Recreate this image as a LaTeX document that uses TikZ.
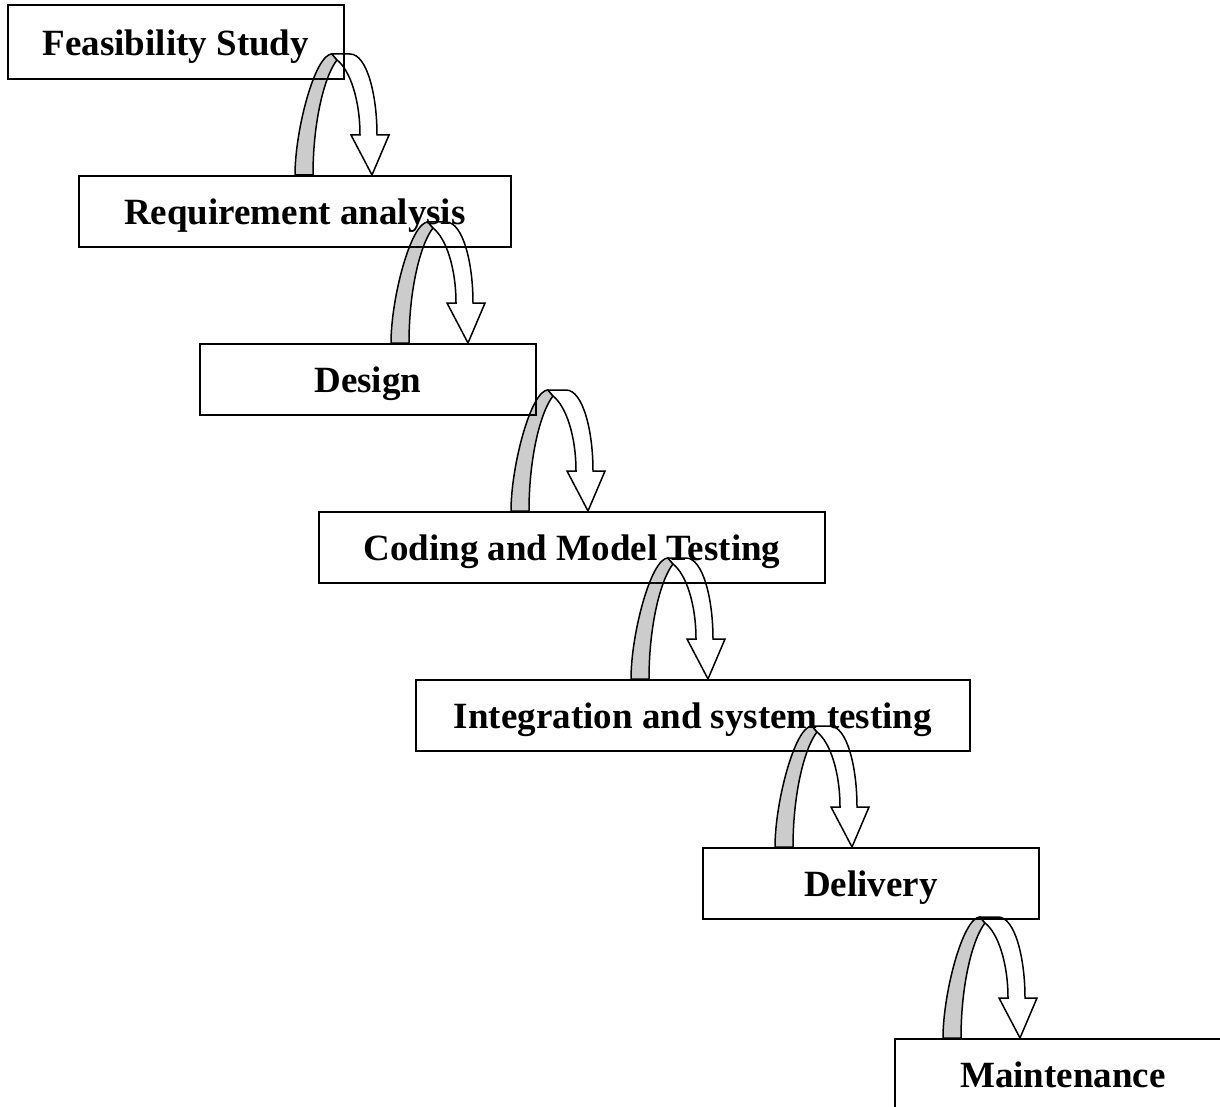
\documentclass[tikz,border=0pt]{standalone}
\usepackage{fontspec}
\setmainfont{Liberation Serif}
\usetikzlibrary{positioning,calc}
\pgfdeclarelayer{background}
\pgfsetlayers{background,main}

\begin{document}
\begin{tikzpicture}[x=1pt,y=-1pt,
    stage/.style={draw, line width=1.8pt, anchor=north west, inner sep=0pt,
        font=\fontsize{37}{44}\selectfont\bfseries,
        text height=27pt, text depth=0pt, minimum height=71pt},
    band/.style={draw, line width=1.5pt, fill=black!20, line join=round},
    shaft/.style={draw, line width=1.5pt, fill=white, line join=miter}]
    \useasboundingbox (0,0) rectangle (1220,1107);
    \clip (0,0) rectangle (1220,1107);

    % stages, stepping down to the right
    \node[stage, minimum width=336pt, minimum height=74pt] (feas) at (7,4) {Feasibility Study};
    \node[stage, minimum width=432pt] (reqs) at (78,175) {Requirement analysis};
    \node[stage, minimum width=336pt] (design) at (199,343) {Design};
    \node[stage, minimum width=506pt] (coding) at (318,511) {Coding and Model Testing};
    \node[stage, minimum width=554pt] (integ) at (415,679) {Integration and system testing};
    \node[stage, minimum width=336pt] (deliv) at (702,847) {Delivery};
    \node[stage, minimum width=336pt] (maint) at (894,1038) {Maintenance};

    % curved arrows down onto each next stage
    \begin{pgfonlayer}{background}
    \foreach \b/\dx in {reqs/217, design/192, coding/193, integ/216, deliv/73, maint/49} {
        \begin{scope}[shift={([xshift=\dx pt]\b.north west)}]
            \draw[band] (0,0) .. controls (0,-45) and (20,-121) .. (37,-121) -- (42,-115)
                .. controls (30,-100) and (18,-55) .. (18,0) -- cycle;
            \draw[shaft] (37,-121) -- (55,-121) .. controls (72,-121) and (82,-80) .. (82,-40)
                -- (94,-40) -- (77,0) -- (56,-40) -- (65,-40)
                .. controls (65,-75) and (55,-105) .. (42,-115) -- cycle;
        \end{scope}
    }
    \end{pgfonlayer}
\end{tikzpicture}
\end{document}
